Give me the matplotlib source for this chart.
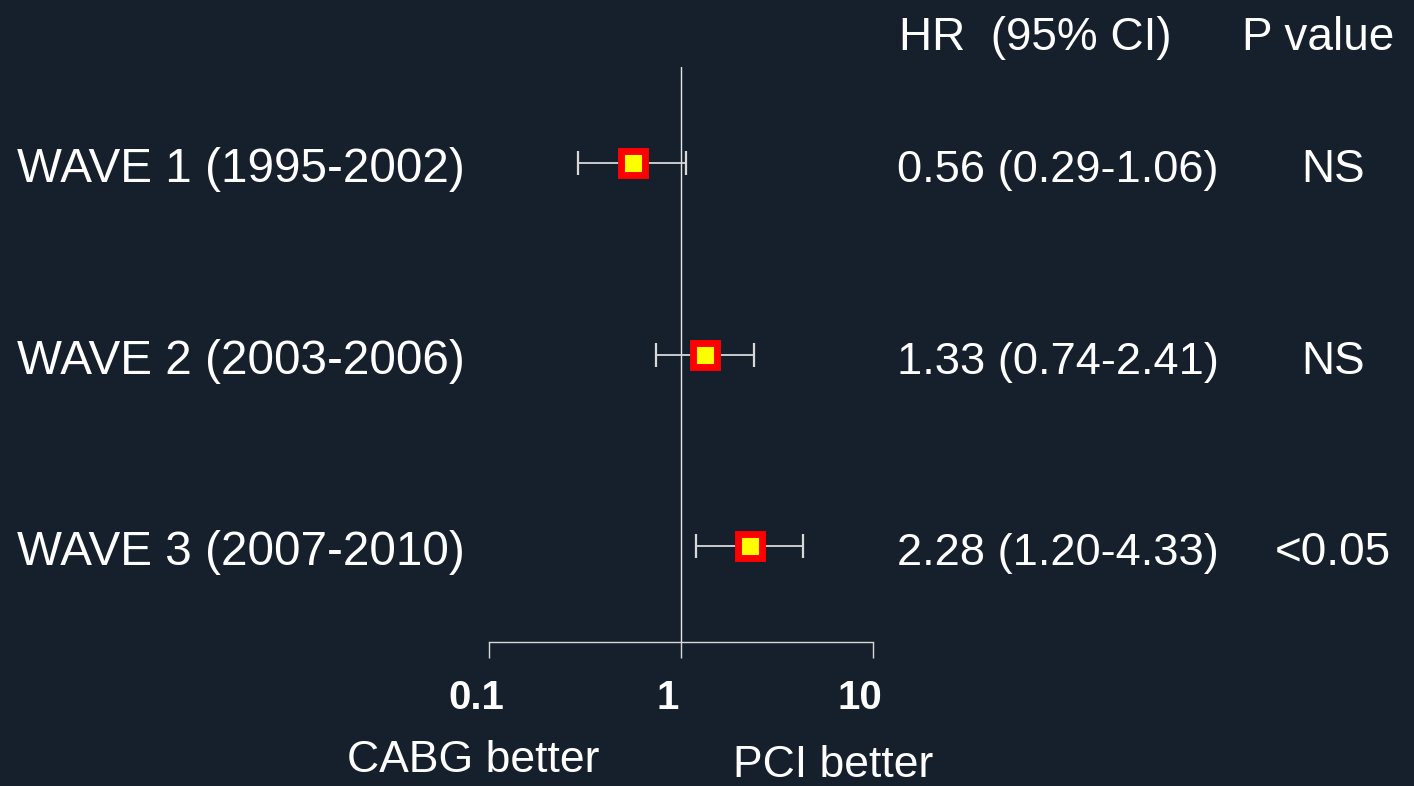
import matplotlib
matplotlib.use("Agg")
import matplotlib.pyplot as plt
import matplotlib.transforms as mtransforms

plt.rcParams['font.family'] = ['Liberation Sans', 'DejaVu Sans']

# data
labels = ['WAVE 1 (1995-2002)', 'WAVE 2 (2003-2006)', 'WAVE 3 (2007-2010)']
hr = [0.56, 1.33, 2.28]
ci_low = [0.29, 0.74, 1.20]
ci_high = [1.06, 2.41, 4.33]
hr_text = ['0.56 (0.29-1.06)', '1.33 (0.74-2.41)', '2.28 (1.20-4.33)']
p_text = ['NS', 'NS', '<0.05']
rows = [3, 2, 1]
xticks = [0.1, 1, 10]
xtick_labels = ['0.1', '1', '10']

bg = '#16202d'
W, H = 1414, 786
fig = plt.figure(figsize=(W / 100, H / 100), dpi=100, facecolor=bg)
ax = fig.add_axes([489 / W, 1 - 642 / H, 384 / W, (642 - 67) / H])
ax.set_facecolor(bg)
ax.set_xscale('log')
ax.set_xlim(0.1, 10)
ax.set_ylim(0.5, 3.5)

ax.axvline(1, color='#e6e6e6', lw=1)

xerr = [[h - l for h, l in zip(hr, ci_low)], [u - h for h, u in zip(hr, ci_high)]]
ax.errorbar(hr, rows, xerr=xerr, fmt='none', ecolor='#d8d8d8', elinewidth=1.3,
            capsize=8.5, capthick=1.6, zorder=2)
ax.plot(hr, rows, 's', ms=17.5, mfc='#ffff00', mec='#ff0000', mew=5, zorder=3)

for s in ['top', 'right', 'left']:
    ax.spines[s].set_visible(False)
ax.spines['bottom'].set_color('#d8d8d8')
ax.spines['bottom'].set_linewidth(1)
ax.set_yticks([])
ax.xaxis.set_minor_locator(matplotlib.ticker.NullLocator())
ax.set_xticks(xticks)
ax.set_xticklabels(xtick_labels, fontsize=29, fontweight='bold', color='white')
ax.tick_params(axis='x', length=11.5, width=1, color='#d8d8d8', pad=15)
# labels sit a little left of their ticks in the original
shift = mtransforms.ScaledTranslation(-13 / 100, 0, fig.dpi_scale_trans)
for t in ax.get_xticklabels():
    t.set_transform(t.get_transform() + shift)

tr = mtransforms.blended_transform_factory(fig.transFigure, ax.transData)
for r, lab, ht, pt in zip(rows, labels, hr_text, p_text):
    ax.text(17 / W, r - 0.1, lab, transform=tr, fontsize=34.3, color='white',
            va='baseline', ha='left')
    ax.text(897 / W, r - 0.1, ht, transform=tr, fontsize=32.6, color='white',
            va='baseline', ha='left')
    ax.text(1333 / W, r - 0.1, pt, transform=tr, fontsize=33, color='white',
            va='baseline', ha='center')

fig.text(899 / W, 1 - 50 / H, 'HR  (95% CI)', fontsize=33, color='white', va='baseline')
fig.text(1242 / W, 1 - 50 / H, 'P value', fontsize=33, color='white', va='baseline')
fig.text(347 / W, 1 - 772 / H, 'CABG better', fontsize=32, color='white', va='baseline')
fig.text(733 / W, 1 - 777 / H, 'PCI better', fontsize=32, color='white', va='baseline')

fig.savefig('out.png', dpi=100, facecolor=bg)
